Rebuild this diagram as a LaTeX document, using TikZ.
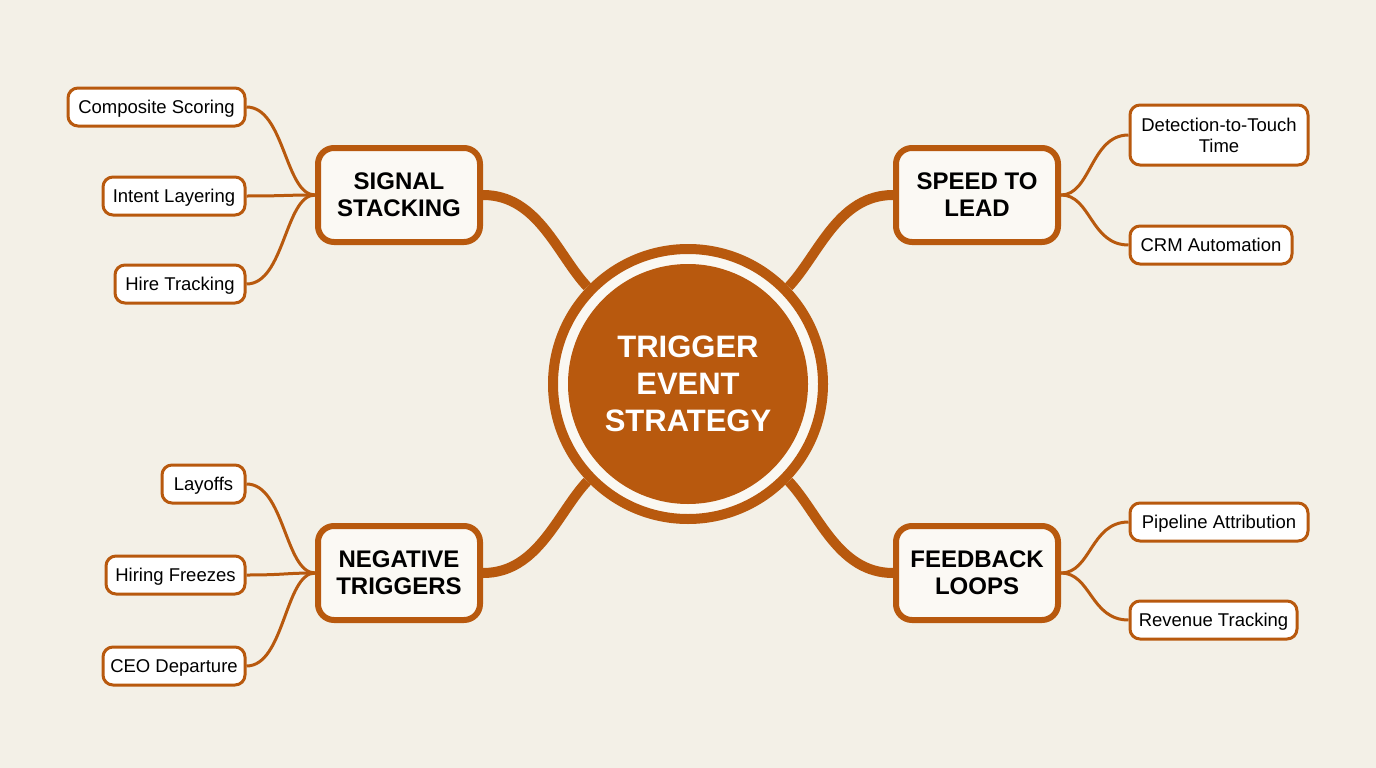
\documentclass[tikz,border=0pt]{standalone}
\usepackage{fontspec}
\setmainfont{Liberation Sans}
\pgfdeclarelayer{back}\pgfdeclarelayer{lines}
\pgfsetlayers{back,lines,main}
\definecolor{brand}{RGB}{184,89,14}
\definecolor{paper}{RGB}{243,240,231}
\definecolor{boxfill}{RGB}{251,249,244}
\definecolor{ringfill}{RGB}{250,248,242}
\begin{document}
\begin{tikzpicture}[x=1pt,y=-1pt,
 mainbox/.style={draw=brand,line width=6pt,rounded corners=16pt,fill=boxfill,minimum width=162pt,minimum height=94pt,align=center,font=\fontsize{24}{27}\selectfont\bfseries,inner sep=0pt},
 leaf/.style={draw=brand,line width=3pt,rounded corners=10pt,fill=white,minimum height=38pt,align=center,font=\fontsize{18.5}{21}\selectfont,inner sep=0pt},
 oneline/.style={leaf,text height=13.5pt,text depth=0pt},
 trunk/.style={draw=brand,line width=10pt},
 twig/.style={draw=brand,line width=3pt}]
\begin{pgfonlayer}{back}
\fill[paper] (0,0) rectangle (1376,768);
\end{pgfonlayer}
\useasboundingbox (0,0) rectangle (1376,768);

% centre
\node[circle,draw=brand,line width=10pt,fill=ringfill,minimum size=270pt] (c) at (688,384) {};
\node[circle,fill=brand,minimum size=240pt,text=white,align=center,font=\fontsize{31}{37}\selectfont\bfseries] (ci) at (688,384) {TRIGGER\\EVENT\\STRATEGY};

% main boxes
\node[mainbox] (sig) at (399,195) {SIGNAL\\STACKING};
\node[mainbox] (spd) at (977,195) {SPEED TO\\LEAD};
\node[mainbox] (neg) at (399,573) {NEGATIVE\\TRIGGERS};
\node[mainbox] (fb) at (977,573) {FEEDBACK\\LOOPS};

% leaves left top
\node[oneline,anchor=east,minimum width=177pt] (l1) at (246.5,107) {Composite Scoring};
\node[oneline,anchor=east,minimum width=142pt] (l2) at (246.5,196) {Intent Layering};
\node[oneline,anchor=east,minimum width=130pt] (l3) at (246.5,284) {Hire Tracking};
% leaves left bottom
\node[oneline,anchor=east,minimum width=83pt] (l4) at (246.5,484) {Layoffs};
\node[oneline,anchor=east,minimum width=139pt] (l5) at (246.5,575) {Hiring Freezes};
\node[oneline,anchor=east,minimum width=142pt] (l6) at (246.5,666) {CEO Departure};
% leaves right
\node[leaf,anchor=west,minimum width=178pt,minimum height=60pt] (r1) at (1128.5,135) {Detection-to-Touch\\Time};
\node[oneline,anchor=west,minimum width=162pt] (r2) at (1128.5,245) {CRM Automation};
\node[oneline,anchor=west,minimum width=178pt] (r3) at (1128.5,522) {Pipeline Attribution};
\node[oneline,anchor=west,minimum width=167pt] (r4) at (1128.5,620) {Revenue Tracking};

\begin{pgfonlayer}{lines}
\draw[trunk] (sig.east) .. controls +(55,0) and +(-30,-32) .. (c.136);
\draw[trunk] (spd.west) .. controls +(-55,0) and +(30,-32) .. (c.44);
\draw[trunk] (neg.east) .. controls +(55,0) and +(-30,32) .. (c.224);
\draw[trunk] (fb.west) .. controls +(-55,0) and +(30,32) .. (c.316);

\foreach \l in {l1,l2,l3}
  \draw[twig] (\l.east) .. controls +(38,0) and +(-30,0) .. (sig.west);
\foreach \l in {l4,l5,l6}
  \draw[twig] (\l.east) .. controls +(38,0) and +(-30,0) .. (neg.west);
\foreach \r in {r1,r2}
  \draw[twig] (\r.west) .. controls +(-38,0) and +(30,0) .. (spd.east);
\foreach \r in {r3,r4}
  \draw[twig] (\r.west) .. controls +(-38,0) and +(30,0) .. (fb.east);
\end{pgfonlayer}
\end{tikzpicture}
\end{document}
